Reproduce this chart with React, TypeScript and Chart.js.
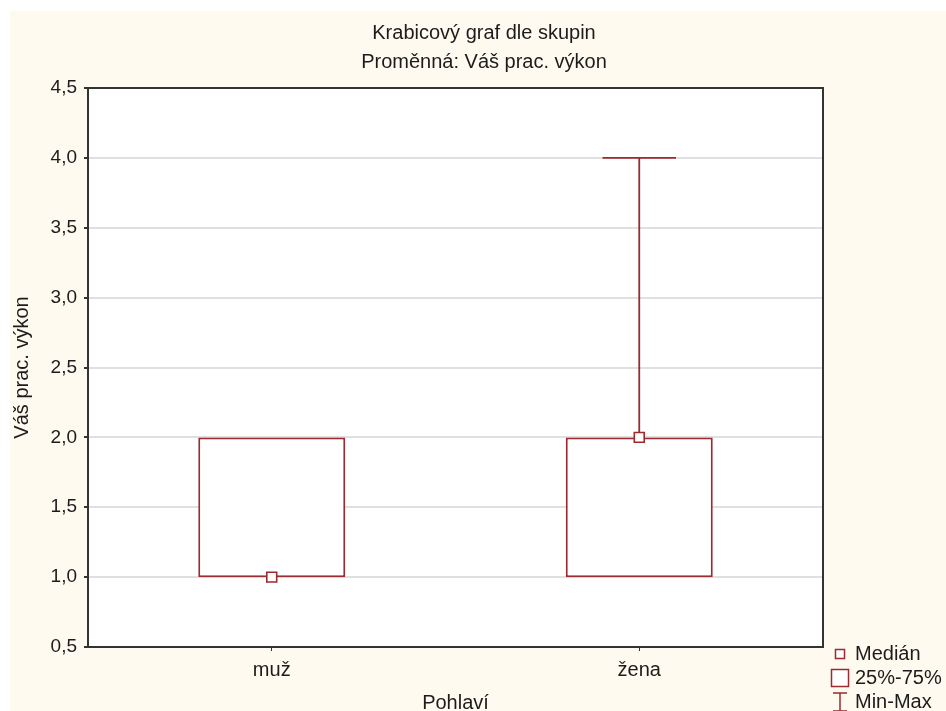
import React, { useEffect, useRef } from 'react';
import { Chart, registerables } from 'chart.js';

Chart.register(...registerables);

const categories = ['muž', 'žena'];
const quartile1 = [1.0, 1.0];
const quartile3 = [2.0, 2.0];
const medians = [1.0, 2.0];
const minimums = [1.0, 1.0];
const maximums = [2.0, 4.0];
const yTickValues = [0.5, 1.0, 1.5, 2.0, 2.5, 3.0, 3.5, 4.0, 4.5];
const legendLabels = ['Medián', '25%-75%', 'Min-Max'];
const chartTitle = 'Krabicový graf dle skupin';
const chartSubtitle = 'Proměnná: Váš prac. výkon';
const xAxisTitle = 'Pohlaví';
const yAxisTitle = 'Váš prac. výkon';

const RED = '#9C2A2E';
const FONT = "'Liberation Sans', Arial, sans-serif";
const TEXT = '#1c1c1c';
const FS = 20;
const TICK_FS = 19;
const LW = 1.8;

const boxPlugin = {
  id: 'boxExtras',
  beforeDraw(chart: any) {
    const { ctx, chartArea } = chart;
    ctx.save();
    ctx.fillStyle = '#ffffff';
    ctx.fillRect(chartArea.left, chartArea.top, chartArea.right - chartArea.left, chartArea.bottom - chartArea.top);
    ctx.restore();
  },
  afterDatasetDraw(chart: any, args: any) {
    if (args.index !== 0) return;
    const { ctx } = chart;
    const yScale = chart.scales.y;
    const meta = chart.getDatasetMeta(0);
    ctx.save();
    ctx.strokeStyle = RED;
    ctx.lineWidth = LW;
    meta.data.forEach((bar: any, i: number) => {
      const x = bar.x;
      const cap = bar.width * 0.5;
      ctx.beginPath();
      if (maximums[i] > quartile3[i]) {
        const yMax = yScale.getPixelForValue(maximums[i]);
        const yQ3 = yScale.getPixelForValue(quartile3[i]);
        ctx.moveTo(x, yQ3);
        ctx.lineTo(x, yMax);
        ctx.moveTo(x - cap / 2, yMax);
        ctx.lineTo(x + cap / 2, yMax);
      }
      if (minimums[i] < quartile1[i]) {
        const yMin = yScale.getPixelForValue(minimums[i]);
        const yQ1 = yScale.getPixelForValue(quartile1[i]);
        ctx.moveTo(x, yQ1);
        ctx.lineTo(x, yMin);
        ctx.moveTo(x - cap / 2, yMin);
        ctx.lineTo(x + cap / 2, yMin);
      }
      ctx.stroke();
    });
    ctx.restore();
  },
  afterDraw(chart: any) {
    const { ctx, chartArea } = chart;
    ctx.save();
    // plot frame
    ctx.strokeStyle = '#333333';
    ctx.lineWidth = 2;
    ctx.strokeRect(chartArea.left, chartArea.top, chartArea.right - chartArea.left, chartArea.bottom - chartArea.top);
    // legend
    const cx = chartArea.right + 17;
    const tx = chartArea.right + 32;
    const rows = [chartArea.bottom + 7, chartArea.bottom + 31, chartArea.bottom + 55];
    ctx.strokeStyle = RED;
    ctx.fillStyle = '#ffffff';
    ctx.lineWidth = 1.5;
    ctx.fillRect(cx - 4.5, rows[0] - 4.5, 9, 9);
    ctx.strokeRect(cx - 4.5, rows[0] - 4.5, 9, 9);
    ctx.fillRect(cx - 8.5, rows[1] - 8.5, 17, 17);
    ctx.strokeRect(cx - 8.5, rows[1] - 8.5, 17, 17);
    ctx.beginPath();
    ctx.moveTo(cx, rows[2] - 9);
    ctx.lineTo(cx, rows[2] + 9);
    ctx.moveTo(cx - 7, rows[2] - 9);
    ctx.lineTo(cx + 7, rows[2] - 9);
    ctx.moveTo(cx - 7, rows[2] + 9);
    ctx.lineTo(cx + 7, rows[2] + 9);
    ctx.stroke();
    ctx.fillStyle = TEXT;
    ctx.font = `${FS}px ${FONT}`;
    ctx.textBaseline = 'middle';
    ctx.textAlign = 'left';
    legendLabels.forEach((t, i) => ctx.fillText(t, tx, rows[i]));
    ctx.restore();
  },
};

export default function App() {
  const ref = useRef<HTMLCanvasElement | null>(null);
  useEffect(() => {
    if (!ref.current) return;
    const chart = new Chart(ref.current, {
      type: 'bar',
      data: {
        labels: categories,
        datasets: [
          {
            type: 'bar',
            label: legendLabels[1],
            data: categories.map((_, i) => [quartile1[i], quartile3[i]]) as any,
            backgroundColor: '#ffffff',
            borderColor: RED,
            borderWidth: 2,
            borderSkipped: false,
            barPercentage: 0.4,
            categoryPercentage: 1.0,
            order: 1,
          } as any,
          {
            type: 'line',
            label: legendLabels[0],
            data: medians,
            showLine: false,
            pointStyle: 'rect',
            pointRadius: 7,
            pointHoverRadius: 7,
            pointBackgroundColor: '#ffffff',
            pointBorderColor: RED,
            pointBorderWidth: 1.6,
            order: 0,
          } as any,
        ],
      },
      options: {
        animation: false,
        responsive: true,
        maintainAspectRatio: false,
        layout: { padding: { left: 12, right: 0, top: 0, bottom: 0 } },
        plugins: {
          legend: { display: false },
          tooltip: { enabled: false },
          title: {
            display: true,
            text: chartTitle,
            color: TEXT,
            font: { family: FONT, size: FS, weight: 'normal' },
            padding: { top: 10, bottom: 0 },
          },
          subtitle: {
            display: true,
            text: chartSubtitle,
            color: TEXT,
            font: { family: FONT, size: FS, weight: 'normal' },
            padding: { top: 5, bottom: 14 },
          },
        },
        scales: {
          x: {
            type: 'category',
            offset: true,
            afterFit: (s: any) => { s.height = 64; },
            grid: {
              offset: false,
              drawOnChartArea: false,
              drawTicks: true,
              tickLength: 4,
              tickColor: '#333333',
            },
            border: { display: false },
            ticks: { color: TEXT, font: { family: FONT, size: FS }, padding: 7 },
            title: {
              display: true,
              text: xAxisTitle,
              color: TEXT,
              font: { family: FONT, size: FS },
              padding: { top: 0, bottom: -4 },
            },
          },
          y: {
            type: 'linear',
            position: 'left',
            min: yTickValues[0],
            max: yTickValues[yTickValues.length - 1],
            afterFit: (s: any) => { s.width = 66; },
            afterBuildTicks: (s: any) => { s.ticks = yTickValues.map((v) => ({ value: v })); },
            grid: {
              color: '#e0e0e0',
              lineWidth: 2,
              drawTicks: true,
              tickLength: 4,
              tickColor: '#333333',
            },
            border: { display: false },
            ticks: {
              color: TEXT,
              font: { family: FONT, size: TICK_FS },
              padding: 7,
              callback: (v: any) => Number(v).toFixed(1).replace('.', ','),
            },
            title: {
              display: true,
              text: yAxisTitle,
              color: TEXT,
              font: { family: FONT, size: FS },
              padding: { top: -12, bottom: 0 },
            },
          },
          legendSpace: {
            type: 'linear',
            position: 'right',
            display: true,
            afterFit: (s: any) => { s.width = 123; },
            grid: { display: false, drawTicks: false },
            border: { display: false },
            ticks: { display: false },
          },
        },
      },
      plugins: [boxPlugin],
    });
    return () => chart.destroy();
  }, []);

  return (
    <div
      style={{
        position: 'fixed',
        left: 10,
        top: 11,
        width: 936,
        height: 700,
        background: '#FFFAF0',
      }}
    >
      <canvas ref={ref} />
    </div>
  );
}
